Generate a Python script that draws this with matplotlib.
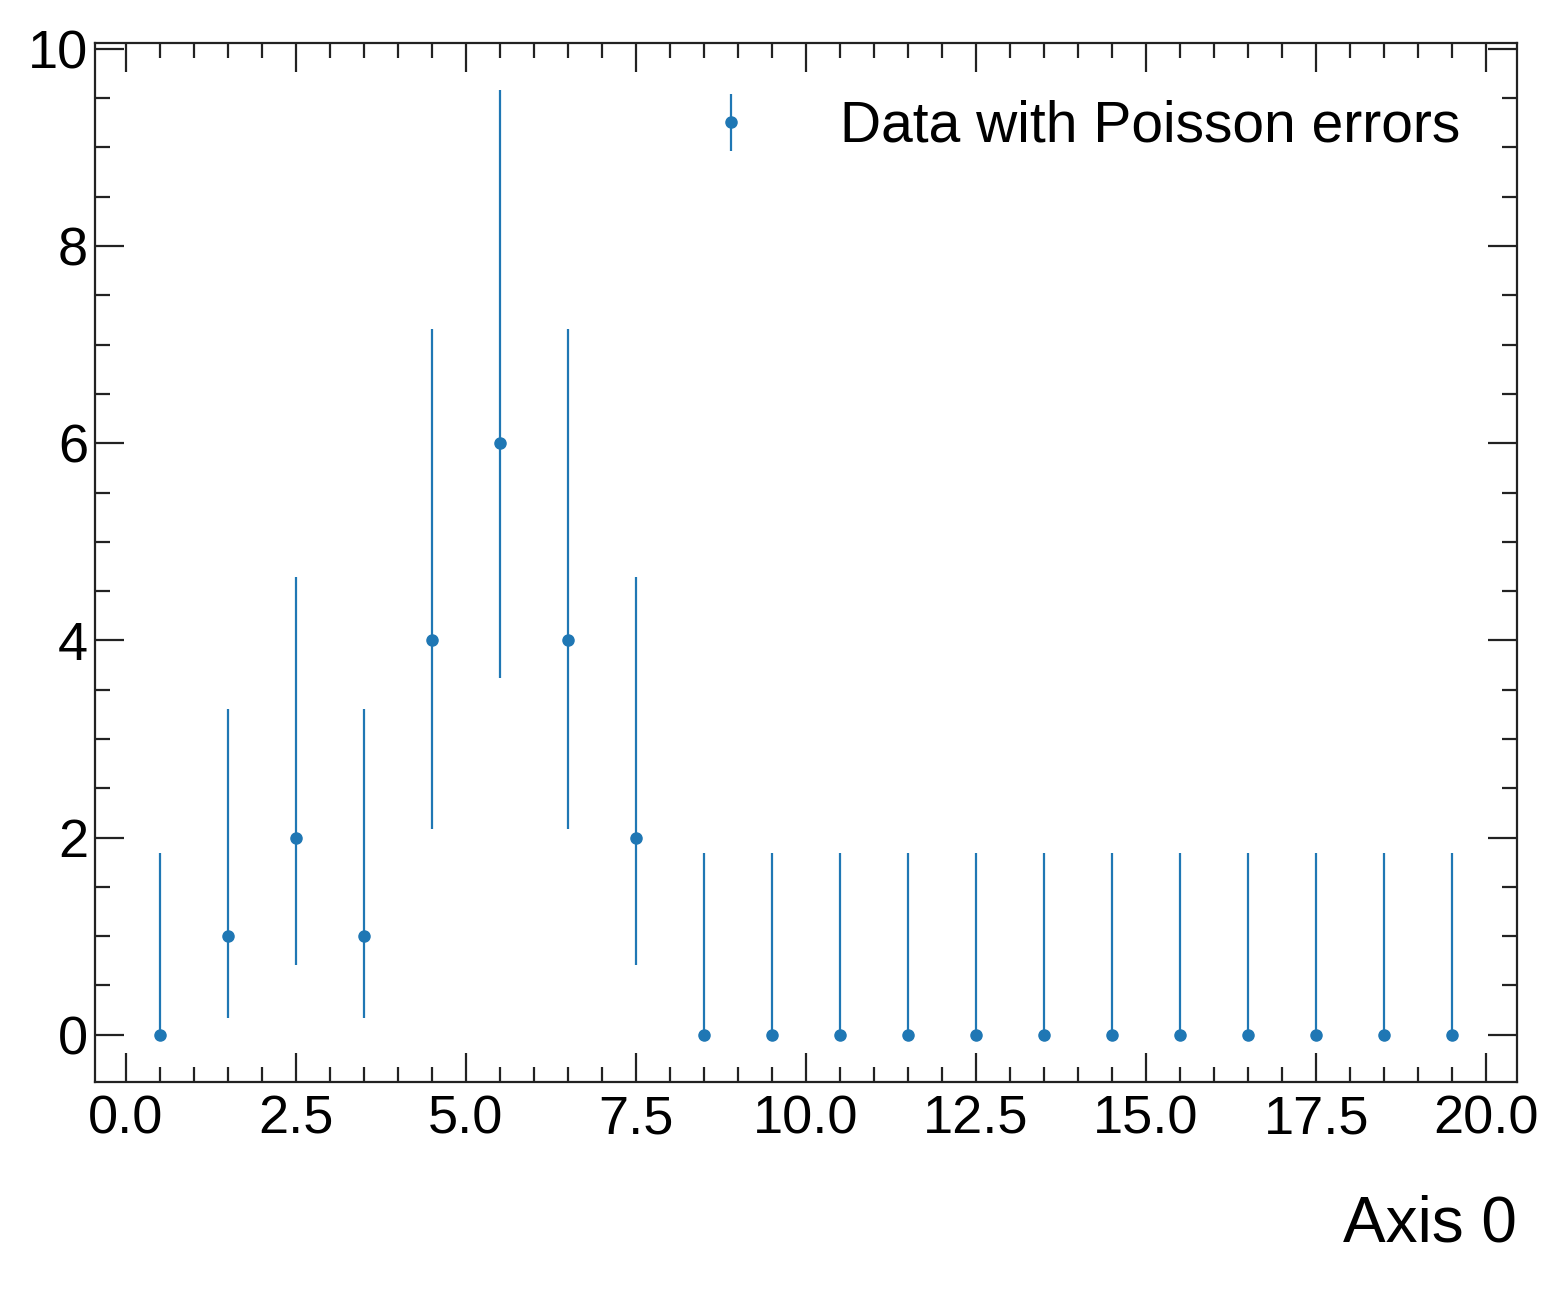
import matplotlib
matplotlib.use("Agg")
import matplotlib.pyplot as plt
from matplotlib.ticker import MultipleLocator

# bin centres and counts
x_centers = [0.5, 1.5, 2.5, 3.5, 4.5, 5.5, 6.5, 7.5, 8.5, 9.5,
             10.5, 11.5, 12.5, 13.5, 14.5, 15.5, 16.5, 17.5, 18.5, 19.5]
counts = [0, 1, 2, 1, 4, 6, 4, 2, 0, 0, 0, 0, 0, 0, 0, 0, 0, 0, 0, 0]

# Poisson interval edges
err_low = [0, 0.17, 0.71, 0.17, 2.09, 3.62, 2.09, 0.71, 0, 0,
           0, 0, 0, 0, 0, 0, 0, 0, 0, 0]
err_high = [1.84, 3.30, 4.64, 3.30, 7.16, 9.58, 7.16, 4.64, 1.84, 1.84,
            1.84, 1.84, 1.84, 1.84, 1.84, 1.84, 1.84, 1.84, 1.84, 1.84]

plt.rcParams['font.family'] = ['Liberation Sans', 'DejaVu Sans']

fig = plt.figure(figsize=(15.67, 12.89), dpi=100)
ax = fig.add_axes([0.0606, 0.1606, 0.968 - 0.0606, 0.9666 - 0.1606])

yerr = [[c - lo for c, lo in zip(counts, err_low)],
        [hi - c for c, hi in zip(counts, err_high)]]
ax.errorbar(x_centers, counts, yerr=yerr, fmt='o', color='#1f77b4',
            markersize=8, elinewidth=1.6, capsize=0,
            label='Data with Poisson errors')

ax.xaxis.set_major_locator(MultipleLocator(2.5))
ax.xaxis.set_minor_locator(MultipleLocator(0.5))
ax.yaxis.set_major_locator(MultipleLocator(2))
ax.yaxis.set_minor_locator(MultipleLocator(0.5))

ax.tick_params(which='both', direction='in', top=True, right=True,
               width=1.6, color='#222222')
ax.tick_params(which='major', length=21, labelsize=39)
ax.tick_params(axis='x', which='major', pad=9)
ax.tick_params(axis='y', which='major', pad=5)
ax.tick_params(which='minor', length=11)
for s in ax.spines.values():
    s.set_linewidth(1.6)
    s.set_color('#222222')

ax.set_xlabel('Axis 0', fontsize=46, loc='right', labelpad=36)

ax.legend(loc='upper right', fontsize=41, frameon=False,
          handletextpad=0.9, borderaxespad=0.6)

fig.savefig('out.png', dpi=100)
